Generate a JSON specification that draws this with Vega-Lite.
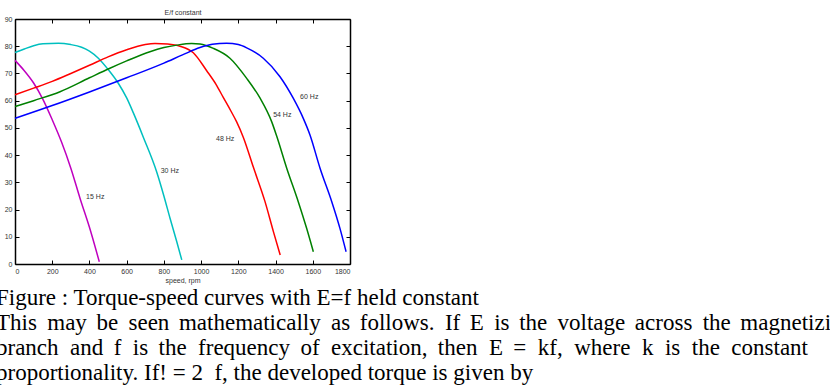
{
  "$schema": "https://vega.github.io/schema/vega-lite/v6.json",
  "width": 335,
  "height": 245,
  "autosize": {"type": "none"},
  "padding": {"left": 15, "top": 19, "right": 480, "bottom": 124},
  "background": "white",
  "config": {
    "view": {"stroke": null},
    "axis": {"labelFont": "Liberation Sans", "titleFont": "Liberation Sans", "labelFontSize": 7, "titleFontSize": 7, "titleFontWeight": "normal", "labelColor": "#333", "titleColor": "#333", "domainColor": "black", "domainWidth": 1.5, "tickColor": "black", "tickWidth": 1, "grid": false, "format": "d"}
  },
  "title": {
    "text": [
      "Figure : Torque-speed curves with E=f held constant",
      "This\u2009 may\u2006 be\u2009 seen\u2006 mathematically\u2009 as\u2006 follows.\u2009 If\u2006 E\u2009 is\u2006 the\u2009 voltage\u2006 across\u2009 the\u2006 magnetizing",
      "branch\u00a0 and\u2009 f\u00a0 is\u2009 the\u00a0 frequency\u2009 of\u00a0 excitation,\u2009 then\u00a0 E\u2009 =\u00a0 kf,\u00a0 where\u00a0 k\u00a0 is\u00a0 the\u00a0 constant",
      "proportionality. If! = 2\u00a0 f, the developed torque is given by"
    ],
    "orient": "bottom",
    "anchor": "start",
    "frame": "group",
    "font": "Liberation Serif",
    "fontSize": 23,
    "fontWeight": "normal",
    "color": "black",
    "lineHeight": 25,
    "dx": -19,
    "offset": 4
  },
  "datasets": {
    "curves": [
      {"f": "15 Hz", "speed": 0, "torque": 74.8},
      {"f": "15 Hz", "speed": 50, "torque": 71},
      {"f": "15 Hz", "speed": 100, "torque": 66.5},
      {"f": "15 Hz", "speed": 150, "torque": 60.5},
      {"f": "15 Hz", "speed": 200, "torque": 53},
      {"f": "15 Hz", "speed": 250, "torque": 44.8},
      {"f": "15 Hz", "speed": 300, "torque": 35.2},
      {"f": "15 Hz", "speed": 350, "torque": 24},
      {"f": "15 Hz", "speed": 400, "torque": 13.5},
      {"f": "15 Hz", "speed": 453, "torque": 0.8},
      {"f": "30 Hz", "speed": 0, "torque": 77.7},
      {"f": "30 Hz", "speed": 50, "torque": 79},
      {"f": "30 Hz", "speed": 100, "torque": 80.2},
      {"f": "30 Hz", "speed": 150, "torque": 80.9},
      {"f": "30 Hz", "speed": 233, "torque": 81.1},
      {"f": "30 Hz", "speed": 300, "torque": 80.6},
      {"f": "30 Hz", "speed": 358, "torque": 79.6},
      {"f": "30 Hz", "speed": 400, "torque": 78.2},
      {"f": "30 Hz", "speed": 448, "torque": 75.6},
      {"f": "30 Hz", "speed": 500, "torque": 71.5},
      {"f": "30 Hz", "speed": 555, "torque": 66.4},
      {"f": "30 Hz", "speed": 600, "torque": 61},
      {"f": "30 Hz", "speed": 636, "torque": 55.5},
      {"f": "30 Hz", "speed": 690, "torque": 46.5},
      {"f": "30 Hz", "speed": 761, "torque": 33.9},
      {"f": "30 Hz", "speed": 800, "torque": 25},
      {"f": "30 Hz", "speed": 833, "torque": 16.8},
      {"f": "30 Hz", "speed": 870, "torque": 8},
      {"f": "30 Hz", "speed": 896, "torque": 1.5},
      {"f": "48 Hz", "speed": 0, "torque": 62.2},
      {"f": "48 Hz", "speed": 100, "torque": 64.6},
      {"f": "48 Hz", "speed": 200, "torque": 67.1},
      {"f": "48 Hz", "speed": 300, "torque": 70},
      {"f": "48 Hz", "speed": 400, "torque": 73},
      {"f": "48 Hz", "speed": 500, "torque": 76.1},
      {"f": "48 Hz", "speed": 600, "torque": 78.7},
      {"f": "48 Hz", "speed": 700, "torque": 80.6},
      {"f": "48 Hz", "speed": 752, "torque": 81},
      {"f": "48 Hz", "speed": 820, "torque": 80.8},
      {"f": "48 Hz", "speed": 887, "torque": 80},
      {"f": "48 Hz", "speed": 958, "torque": 77.6},
      {"f": "48 Hz", "speed": 1030, "torque": 71},
      {"f": "48 Hz", "speed": 1080, "torque": 66},
      {"f": "48 Hz", "speed": 1119, "torque": 61.2},
      {"f": "48 Hz", "speed": 1160, "torque": 56.2},
      {"f": "48 Hz", "speed": 1191, "torque": 52.2},
      {"f": "48 Hz", "speed": 1227, "torque": 46.5},
      {"f": "48 Hz", "speed": 1281, "torque": 35.5},
      {"f": "48 Hz", "speed": 1343, "torque": 23},
      {"f": "48 Hz", "speed": 1388, "torque": 12},
      {"f": "48 Hz", "speed": 1425, "torque": 3.3},
      {"f": "54 Hz", "speed": 0, "torque": 57.8},
      {"f": "54 Hz", "speed": 100, "torque": 60},
      {"f": "54 Hz", "speed": 242, "torque": 63.3},
      {"f": "54 Hz", "speed": 400, "torque": 68.4},
      {"f": "54 Hz", "speed": 510, "torque": 71.9},
      {"f": "54 Hz", "speed": 600, "torque": 74.6},
      {"f": "54 Hz", "speed": 725, "torque": 78},
      {"f": "54 Hz", "speed": 800, "torque": 79.5},
      {"f": "54 Hz", "speed": 869, "torque": 80.4},
      {"f": "54 Hz", "speed": 949, "torque": 81},
      {"f": "54 Hz", "speed": 994, "torque": 80.8},
      {"f": "54 Hz", "speed": 1066, "torque": 79.2},
      {"f": "54 Hz", "speed": 1155, "torque": 75.6},
      {"f": "54 Hz", "speed": 1245, "torque": 68.2},
      {"f": "54 Hz", "speed": 1317, "torque": 60.9},
      {"f": "54 Hz", "speed": 1379, "torque": 52.3},
      {"f": "54 Hz", "speed": 1406, "torque": 47},
      {"f": "54 Hz", "speed": 1460, "torque": 35.2},
      {"f": "54 Hz", "speed": 1522, "torque": 22.9},
      {"f": "54 Hz", "speed": 1567, "torque": 13.1},
      {"f": "54 Hz", "speed": 1603, "torque": 4.5},
      {"f": "60 Hz", "speed": 0, "torque": 53.5},
      {"f": "60 Hz", "speed": 200, "torque": 58.2},
      {"f": "60 Hz", "speed": 400, "torque": 63.2},
      {"f": "60 Hz", "speed": 600, "torque": 68.4},
      {"f": "60 Hz", "speed": 800, "torque": 73.8},
      {"f": "60 Hz", "speed": 900, "torque": 76.8},
      {"f": "60 Hz", "speed": 994, "torque": 79.5},
      {"f": "60 Hz", "speed": 1060, "torque": 80.7},
      {"f": "60 Hz", "speed": 1137, "torque": 81.1},
      {"f": "60 Hz", "speed": 1200, "torque": 80.6},
      {"f": "60 Hz", "speed": 1245, "torque": 79.4},
      {"f": "60 Hz", "speed": 1334, "torque": 75.6},
      {"f": "60 Hz", "speed": 1424, "torque": 68.8},
      {"f": "60 Hz", "speed": 1495, "torque": 60.9},
      {"f": "60 Hz", "speed": 1549, "torque": 53.5},
      {"f": "60 Hz", "speed": 1585, "torque": 47.4},
      {"f": "60 Hz", "speed": 1639, "torque": 35.2},
      {"f": "60 Hz", "speed": 1702, "torque": 22.9},
      {"f": "60 Hz", "speed": 1746, "torque": 13.1},
      {"f": "60 Hz", "speed": 1779, "torque": 4.5}
    ],
    "labels": [
      {"f": "60 Hz", "speed": 1532, "torque": 61.4},
      {"f": "54 Hz", "speed": 1387, "torque": 54.8},
      {"f": "48 Hz", "speed": 1080, "torque": 45.8},
      {"f": "30 Hz", "speed": 783, "torque": 34},
      {"f": "15 Hz", "speed": 382, "torque": 24.5}
    ]
  },
  "layer": [
    {
      "data": {"name": "curves"},
      "mark": {"type": "line", "strokeWidth": 1.5, "interpolate": "monotone"},
      "encoding": {
        "x": {"field": "speed", "type": "quantitative", "scale": {"domain": [0, 1800], "nice": false},
              "axis": {"orient": "bottom", "values": [0,200,400,600,800,1000,1200,1400,1600,1800], "title": "speed, rpm", "tickSize": -4, "labelPadding": 7, "titlePadding": 2}},
        "y": {"field": "torque", "type": "quantitative", "scale": {"domain": [0, 90], "nice": false},
              "axis": {"orient": "left", "values": [0,10,20,30,40,50,60,70,80,90], "title": null, "tickSize": -4, "labelPadding": 7}},
        "color": {"field": "f", "type": "nominal", "legend": null,
                  "scale": {"domain": ["15 Hz", "30 Hz", "48 Hz", "54 Hz", "60 Hz"], "range": ["#bf00bf", "#00bfbf", "#ff0000", "#008000", "#0000ff"]}},
        "detail": {"field": "f"},
        "order": {"field": "speed", "type": "quantitative"}
      }
    },
    {
      "data": {"name": "labels"},
      "mark": {"type": "text", "align": "left", "baseline": "middle", "font": "Liberation Sans", "fontSize": 7, "color": "#333"},
      "encoding": {
        "x": {"field": "speed", "type": "quantitative",
              "axis": {"orient": "top", "values": [0,200,400,600,800,1000,1200,1400,1600,1800], "labels": false, "title": "E/f constant", "tickSize": -4, "titlePadding": 3}},
        "y": {"field": "torque", "type": "quantitative",
              "axis": {"orient": "right", "values": [0,10,20,30,40,50,60,70,80,90], "labels": false, "title": null, "tickSize": -4}},
        "text": {"field": "f"}
      }
    }
  ],
  "resolve": {"axis": {"x": "independent", "y": "independent"}}
}
